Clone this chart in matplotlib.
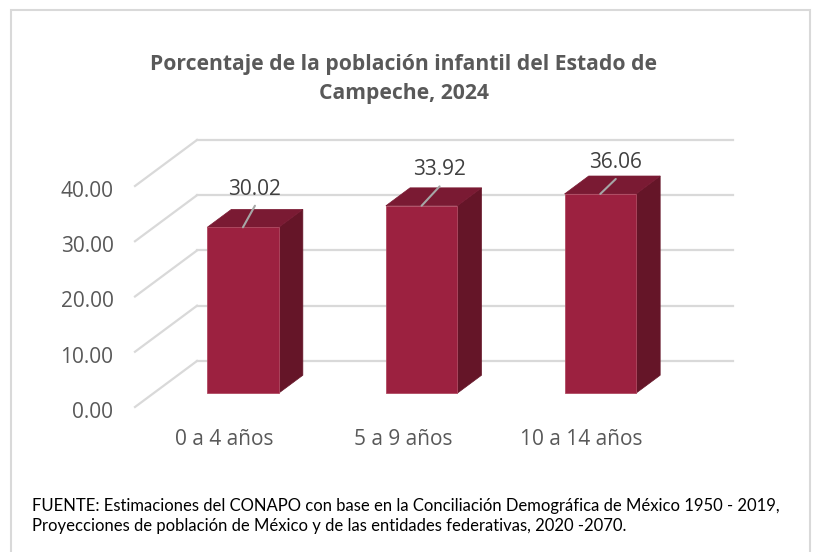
import matplotlib
matplotlib.use('Agg')
import matplotlib.pyplot as plt
from matplotlib.patches import Polygon, Rectangle
from matplotlib.transforms import ScaledTranslation

# ---- data ----
categories = ['0 a 4 años', '5 a 9 años', '10 a 14 años']
values = [30.02, 33.92, 36.06]
value_labels = ['30.02', '33.92', '36.06']
ytick_values = [0, 10, 20, 30, 40]
ytick_labels = ['0.00', '10.00', '20.00', '30.00', '40.00']
title = 'Porcentaje de la población infantil del Estado de\nCampeche, 2024'
source = ('FUENTE: Estimaciones del CONAPO con base en la Conciliación Demográfica de México 1950 - 2019,\n'
          'Proyecciones de población de México y de las entidades federativas, 2020 -2070.')

# ---- layout / style ----
W, H = 815, 552
FRONT = '#9c2140'
SIDE = '#651528'
TOP = '#7a1a33'
GRID = '#d9d9d9'
TXT = '#595959'
LBL = '#404040'
# oblique depth of the plot box (data units)
DX, DY = 0.347, 8.33
BW = 0.40      # bar width (category units)
F1 = 0.30      # front face position, fraction of depth
BD = 0.39      # bar depth, fraction of depth
# label offsets (pixels) from front-top centre of each bar: leader end, text centre
leader_off = [(12, 21.6), (18, 19.4), (15.5, 15)]
text_off = [(12, 38), (17.5, 36), (15.5, 31)]

plt.rcParams['font.family'] = ['Open Sans', 'DejaVu Sans']

fig = plt.figure(figsize=(W / 100, H / 100), dpi=100)
fig.patch.set_facecolor('white')
fig.patches.append(Rectangle((11 / W, -0.1), 799 / W, (H - 10) / H + 0.1,
                             transform=fig.transFigure, fill=False,
                             edgecolor=GRID, linewidth=1.5, zorder=0))

ax = fig.add_axes([135 / W, (H - 407) / H, 536 / W, 221 / H])
ax.set_xlim(-0.5, len(categories) - 0.5)
ax.set_ylim(ytick_values[0], ytick_values[-1])
ax.set_facecolor('none')
for s in ax.spines.values():
    s.set_visible(False)

# gridlines: left wall diagonals + back wall
xl, xr = -0.5, len(categories) - 0.5
for v in ytick_values:
    ax.plot([xl, xl + DX], [v, v + DY], color=GRID, lw=1.6, clip_on=False, zorder=1)
    ax.plot([xl + DX, xr + DX], [v + DY, v + DY], color=GRID, lw=1.6, clip_on=False, zorder=1)

# 3D bars
for i, v in enumerate(values):
    x0 = i - BW / 2 + F1 * DX
    y0 = F1 * DY
    ddx, ddy = BD * DX, BD * DY
    side = Polygon([(x0 + BW, y0), (x0 + BW + ddx, y0 + ddy),
                    (x0 + BW + ddx, y0 + v + ddy), (x0 + BW, y0 + v)],
                   closed=True, facecolor=SIDE, edgecolor=SIDE, lw=0.5,
                   clip_on=False, zorder=3)
    top = Polygon([(x0, y0 + v), (x0 + BW, y0 + v),
                   (x0 + BW + ddx, y0 + v + ddy), (x0 + ddx, y0 + v + ddy)],
                  closed=True, facecolor=TOP, edgecolor=TOP, lw=0.5,
                  clip_on=False, zorder=3)
    front = Rectangle((x0, y0), BW, v, facecolor=FRONT, edgecolor='#b04a62',
                      lw=0.6, clip_on=False, zorder=4)
    for p in (side, top, front):
        ax.add_patch(p)
    # leader and label
    cx, cy = x0 + BW / 2, y0 + v
    lo = leader_off[i]
    to = text_off[i]
    ax.annotate('', xy=(cx, cy), xycoords='data',
                xytext=(lo[0] * 0.72, lo[1] * 0.72), textcoords='offset points',
                arrowprops=dict(arrowstyle='-', color='#a6a6a6', lw=1.5,
                                shrinkA=0, shrinkB=0), zorder=5)
    ax.annotate(value_labels[i], xy=(cx, cy), xycoords='data',
                xytext=(to[0] * 0.72, to[1] * 0.72), textcoords='offset points',
                ha='center', va='center', fontsize=15, color=LBL, zorder=6)

ax.set_yticks(ytick_values, ytick_labels)
ax.set_xticks(range(len(categories)), categories)
ax.tick_params(axis='y', length=0, pad=15.5, labelsize=15, labelcolor=TXT)
ax.tick_params(axis='x', length=0, pad=16, labelsize=15, labelcolor=TXT)
shift = ScaledTranslation(0, -3 / 100, fig.dpi_scale_trans)
for lab in ax.get_yticklabels():
    lab.set_transform(lab.get_transform() + shift)

fig.text(404 / W, 1 - 79 / H, title, ha='center', va='center',
         fontsize=15.2, fontweight='bold', color=TXT, linespacing=1.5)

fig.text(32 / W, 1 - 516 / H, source, ha='left', va='center',
         fontsize=12, color='black', linespacing=1.35, family=['Lato', 'DejaVu Sans'])

fig.savefig('out.png', dpi=100, facecolor='white')
